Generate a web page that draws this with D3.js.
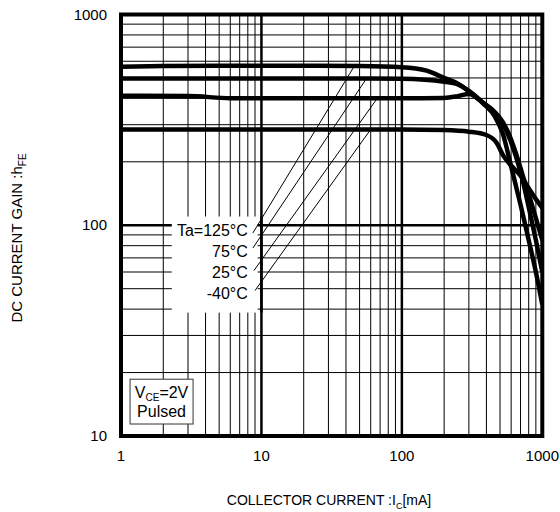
<!DOCTYPE html>
<html>
<head>
<meta charset="utf-8">
<script src="https://cdn.jsdelivr.net/npm/d3@7/dist/d3.min.js"></script>
<style>
  body { margin: 0; background: #fff; }
  text { font-family: Arial, "Liberation Sans", sans-serif; fill: #000; }
</style>
</head>
<body>
<svg id="chart" width="560" height="512"></svg>
<script>
// axis ticks
const xTicks = [1, 10, 100, 1000];
const yTicks = [10, 100, 1000];

// hFE vs Ic [mA] curves
const ta125 = [[1, 565], [2, 570], [5, 572], [10, 572], [20, 571], [50, 569], [100, 562], [150, 542], [200, 500], [250, 470], [300, 432], [380, 378], [460, 328], [525, 270], [600, 190], [700, 125], [800, 85], [900, 60], [1000, 42]];
const ta75 = [[1, 497], [5, 497], [10, 497], [50, 497], [100, 495], [200, 480], [250, 466], [300, 434], [380, 381], [460, 342], [525, 302], [590, 255], [660, 205], [730, 160], [800, 122], [900, 85], [1000, 60]];
const ta25 = [[1, 412], [3, 410], [6, 401], [10, 400], [50, 400], [100, 400], [200, 402], [250, 410], [300, 420], [380, 380], [460, 344], [525, 308], [590, 262], [660, 212], [730, 170], [815, 135], [900, 108], [1000, 85]];
const taM40 = [[1, 285], [10, 285], [100, 285], [200, 283], [300, 278], [400, 268], [475, 245], [525, 215], [600, 192], [700, 172], [800, 150], [900, 133], [1000, 121]];
const curves = [ta125, ta75, ta25, taM40];

// temperature labels, their positions and leader lines (Ic, hFE)
const tempLabels = ["Ta=125°C", "75°C", "25°C", "-40°C"];
const labelAt = [[8.0, 88.9], [8.0, 70.6], [8.0, 56.2], [8.0, 44.7]];
const leaderFrom = [[8.7, 92], [8.7, 78], [8.85, 61], [9.0, 49]];
const leaderTo = [[46, 571], [56, 497], [67, 401], [60, 285]];

const svg = d3.select("#chart");
const plotLeft = 121, plotRight = 542.3, plotTop = 14.5, plotBottom = 436;

const x = d3.scaleLog().domain([1, 1000]).range([plotLeft, plotRight]);
const y = d3.scaleLog().domain([10, 1000]).range([plotBottom, plotTop]);

// grid
const minor = [];
for (let d = 1; d < 1000; d *= 10) {
  for (let k = 2; k <= 9; k++) minor.push(d * k);
}
const grid = svg.append("g");
grid.selectAll(".vx")
  .data(minor)
  .join("line")
  .attr("x1", d => x(d)).attr("x2", d => x(d))
  .attr("y1", plotTop).attr("y2", plotBottom)
  .attr("stroke", "#000").attr("stroke-width", 1);
grid.selectAll(".hy")
  .data(minor.filter(v => v >= 20))
  .join("line")
  .attr("x1", plotLeft).attr("x2", plotRight)
  .attr("y1", d => y(d)).attr("y2", d => y(d))
  .attr("stroke", "#000").attr("stroke-width", 1);

// decade lines
grid.selectAll(".dx")
  .data([10, 100])
  .join("line")
  .attr("x1", d => x(d)).attr("x2", d => x(d))
  .attr("y1", plotTop).attr("y2", plotBottom)
  .attr("stroke", "#000").attr("stroke-width", 2.5);
grid.append("line")
  .attr("x1", plotLeft).attr("x2", plotRight)
  .attr("y1", y(100)).attr("y2", y(100))
  .attr("stroke", "#000").attr("stroke-width", 2.5);

// white area behind the temperature labels
svg.append("rect")
  .attr("x", x(2.3)).attr("y", y(110))
  .attr("width", x(9.4) - x(2.3))
  .attr("height", y(38.5) - y(110))
  .attr("fill", "#fff");
// 10 mA decade line runs through the label area
svg.append("line")
  .attr("x1", x(10)).attr("x2", x(10))
  .attr("y1", y(110)).attr("y2", y(38.5))
  .attr("stroke", "#000").attr("stroke-width", 2.5);

// curves
svg.append("clipPath").attr("id", "clip")
  .append("rect").attr("x", plotLeft).attr("y", plotTop)
  .attr("width", plotRight - plotLeft).attr("height", plotBottom - plotTop);

const line = d3.line()
  .x(d => x(d[0]))
  .y(d => y(d[1]))
  .curve(d3.curveMonotoneX);

svg.append("g").attr("clip-path", "url(#clip)")
  .selectAll("path")
  .data(curves)
  .join("path")
  .attr("d", line)
  .attr("fill", "none")
  .attr("stroke", "#000")
  .attr("stroke-width", 4.5)
  .attr("stroke-linejoin", "round");

// leader lines
svg.selectAll(".leader")
  .data(tempLabels)
  .join("line")
  .attr("x1", (d, i) => x(leaderFrom[i][0]))
  .attr("y1", (d, i) => y(leaderFrom[i][1]))
  .attr("x2", (d, i) => x(leaderTo[i][0]))
  .attr("y2", (d, i) => y(leaderTo[i][1]))
  .attr("stroke", "#000").attr("stroke-width", 1);

// temperature labels
svg.selectAll(".tlabel")
  .data(tempLabels)
  .join("text")
  .attr("x", (d, i) => x(labelAt[i][0]))
  .attr("y", (d, i) => y(labelAt[i][1]))
  .attr("text-anchor", "end")
  .style("font-size", "16px")
  .text(d => d);

// frame
svg.append("rect")
  .attr("x", plotLeft).attr("y", plotTop)
  .attr("width", plotRight - plotLeft).attr("height", plotBottom - plotTop)
  .attr("fill", "none").attr("stroke", "#000").attr("stroke-width", 4);

// VCE box
const vbox = svg.append("g");
const boxL = x(1.16), boxR = x(3.26);
vbox.append("rect")
  .attr("x", boxL).attr("y", y(18.6))
  .attr("width", boxR - boxL)
  .attr("height", y(11.4) - y(18.6))
  .attr("fill", "#fff").attr("stroke", "#333").attr("stroke-width", 1);
const vt = vbox.append("text")
  .attr("x", (boxL + boxR) / 2)
  .attr("y", y(15.1))
  .attr("text-anchor", "middle")
  .style("font-size", "16px");
vt.append("tspan").text("V");
vt.append("tspan").attr("dy", 3).style("font-size", "10px").text("CE");
vt.append("tspan").attr("dy", -3).text("=2V");
vbox.append("text")
  .attr("x", (boxL + boxR) / 2)
  .attr("y", y(12.3))
  .attr("text-anchor", "middle")
  .style("font-size", "16px")
  .text("Pulsed");

// tick labels
svg.selectAll(".xt")
  .data(xTicks)
  .join("text")
  .attr("x", d => x(d))
  .attr("y", plotBottom + 25)
  .attr("text-anchor", "middle")
  .style("font-size", "15px")
  .text(d => d);
svg.selectAll(".yt")
  .data(yTicks)
  .join("text")
  .attr("x", 107)
  .attr("y", d => y(d) + 5)
  .attr("text-anchor", "end")
  .style("font-size", "15px")
  .text(d => d);

// axis titles
const xt = svg.append("text")
  .attr("x", 329)
  .attr("y", 505)
  .attr("text-anchor", "middle")
  .style("font-size", "14px");
xt.append("tspan").text("COLLECTOR CURRENT :I");
xt.append("tspan").attr("dy", 4).style("font-size", "9px").text("C");
xt.append("tspan").attr("dy", -4).text("[mA]");

const yt = svg.append("text")
  .attr("transform", "translate(22,238) rotate(-90)")
  .attr("text-anchor", "middle")
  .style("font-size", "15px");
yt.append("tspan").text("DC CURRENT GAIN :h");
yt.append("tspan").attr("dy", 4).style("font-size", "10px").text("FE");
</script>
</body>
</html>
